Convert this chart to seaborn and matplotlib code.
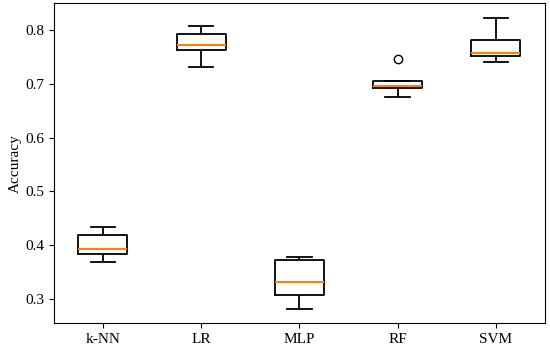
import matplotlib
matplotlib.use('Agg')
import matplotlib.pyplot as plt
import pandas as pd
import seaborn as sns

# Accuracy per fold (min, q1, median, q3, max / outlier)
models = ['k-NN', 'LR', 'MLP', 'RF', 'SVM']
knn = [0.368, 0.383, 0.393, 0.418, 0.433]
lr = [0.731, 0.762, 0.773, 0.793, 0.808]
mlp = [0.282, 0.307, 0.332, 0.373, 0.378]
rf = [0.676, 0.692, 0.696, 0.706, 0.746]
svm = [0.741, 0.752, 0.758, 0.781, 0.822]

df = pd.DataFrame({
    'model': [m for m, vals in zip(models, [knn, lr, mlp, rf, svm]) for _ in vals],
    'acc': knn + lr + mlp + rf + svm,
})

plt.rcParams['font.family'] = ['Liberation Serif', 'DejaVu Serif']
plt.rcParams['font.size'] = 11

fig = plt.figure(figsize=(5.5, 3.51), dpi=100)
ax = fig.add_axes([0.0976, 0.079, 0.8933, 0.9116])

sns.boxplot(data=df, x='model', y='acc', order=models, ax=ax,
            color='black', fill=False, width=0.5, linewidth=1.3,
            whis=1.5, fliersize=6,
            medianprops={'color': '#ff7f0e', 'linewidth': 1.5},
            flierprops={'marker': 'o', 'markerfacecolor': 'none',
                        'markeredgecolor': 'black'})

ax.set_xlim(-0.5, 4.5)
ax.set_ylim(0.2548, 0.8496)
ax.set_xlabel('')
ax.set_ylabel('Accuracy', labelpad=2)
ax.set_yticks([0.3, 0.4, 0.5, 0.6, 0.7, 0.8])

fig.savefig('out.png', dpi=100)
